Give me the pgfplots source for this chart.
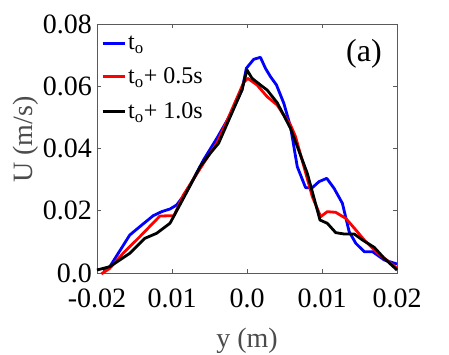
\documentclass[border=0pt]{standalone}
\usepackage{fontspec}
\setmainfont{Liberation Serif}
\usepackage{pgfplots}
\pgfplotsset{compat=1.18}

\definecolor{axgray}{RGB}{90,90,90}
\definecolor{lblgray}{RGB}{75,75,75}

\begin{document}
\begin{tikzpicture}
\begin{axis}[
    at={(0,0)}, anchor=south west,
    scale only axis,
    width=300pt, height=249pt,
    xmin=-0.02, xmax=0.02,
    ymin=0, ymax=0.08,
    clip=false,
    scaled ticks=false,
    /pgf/number format/assume math mode=true,
    xtick={-0.02,-0.01,0,0.01,0.02},
    xticklabels={\textrm{-0.02},\textrm{0.01},\textrm{0.0},\textrm{0.01},\textrm{0.02}},
    ytick={0,0.02,0.04,0.06,0.08},
    yticklabels={\textrm{0.0},\textrm{0.02},\textrm{0.04},\textrm{0.06},\textrm{0.08}},
    tick align=inside,
    major tick length=4pt,
    tick style={axgray, line width=0.6pt},
    axis line style={axgray, line width=0.8pt},
    ticklabel style={font=\fontsize{28}{32}\selectfont, inner sep=0pt},
    xticklabel style={anchor=base, yshift=-35pt},
    yticklabel style={anchor=east, xshift=-5pt},
    xlabel={y (m)},
    ylabel={U (m/s)},
    label style={font=\fontsize{28}{32}\selectfont, text=lblgray, inner sep=0pt},
    xlabel style={at={(axis description cs:0.5,-0.298)}, anchor=base},
    ylabel style={at={(axis description cs:-0.237,0.535)}, anchor=center},
    legend style={draw=none, fill=none, at={(0.01,0.965)}, anchor=north west,
        font=\fontsize{24}{26}\selectfont, row sep=13pt,
        inner sep=1pt},
    legend cell align=left,
    legend image code/.code={\draw[#1, line width=3pt] (0pt,0pt) -- (22pt,0pt);},
    every axis plot/.append style={line width=2.8pt, line join=round},
]
\addplot[color=blue] coordinates {
(-0.01920,0.00096) (-0.01830,0.00200) (-0.01563,0.01221) (-0.01429,0.01489)
(-0.01250,0.01842) (-0.01138,0.01971) (-0.01027,0.02056) (-0.00938,0.02185)
(-0.00804,0.02613) (-0.00580,0.03631) (-0.00402,0.04327) (-0.00223,0.05077)
(-0.00067,0.05880) (-0.00009,0.06576) (0.00089,0.06865) (0.00179,0.06930)
(0.00246,0.06576) (0.00313,0.06308) (0.00393,0.06041) (0.00491,0.05451)
(0.00580,0.04702) (0.00670,0.03417) (0.00781,0.02742) (0.00871,0.02742)
(0.00960,0.02935) (0.01063,0.03042) (0.01161,0.02720) (0.01272,0.02238)
(0.01362,0.01328) (0.01451,0.00953) (0.01563,0.00685) (0.01674,0.00685)
(0.01830,0.00418) (0.02000,0.00289)
};
\addlegendentry{t\textsubscript{o}}
\addplot[color=red] coordinates {
(-0.01942,-0.0003) (-0.01830,0.00150) (-0.01652,0.00632) (-0.01429,0.01167)
(-0.01161,0.01831) (-0.00973,0.01842) (-0.00848,0.02506) (-0.00580,0.03524)
(-0.00402,0.04166) (-0.00223,0.05130) (-0.00045,0.06115) (0.00009,0.06255)
(0.00134,0.06041) (0.00268,0.05666) (0.00402,0.05398) (0.00580,0.04755)
(0.00647,0.04380) (0.00759,0.03417) (0.00871,0.02453) (0.00982,0.01810)
(0.01071,0.01971) (0.01183,0.01949) (0.01317,0.01756) (0.01451,0.01382)
(0.01563,0.01060) (0.01741,0.00632) (0.01875,0.00396) (0.02000,0.00150)
};
\addlegendentry{t\textsubscript{o}+ 0.5s}
\addplot[color=black] coordinates {
(-0.02000,0.00096) (-0.01830,0.00203) (-0.01563,0.00632) (-0.01362,0.01114)
(-0.01205,0.01275) (-0.01027,0.01596) (-0.00848,0.02399) (-0.00625,0.03417)
(-0.00491,0.03845) (-0.00379,0.04166) (-0.00223,0.05023) (-0.00067,0.05880)
(0.00000,0.06523) (0.00067,0.06255) (0.00179,0.06041) (0.00268,0.05880)
(0.00402,0.05473) (0.00580,0.04648) (0.00804,0.03202) (0.00973,0.01703)
(0.01071,0.01596) (0.01183,0.01296) (0.01295,0.01253) (0.01429,0.01253)
(0.01540,0.01060) (0.01696,0.00825) (0.01830,0.00471) (0.02000,0.00096)
};
\addlegendentry{t\textsubscript{o}+ 1.0s}
\node[font=\fontsize{32}{36}\selectfont, anchor=center] at (rel axis cs:0.89,0.88) {(a)};
\end{axis}
\useasboundingbox (-97pt,-82pt) rectangle (352pt,273pt);
\end{tikzpicture}
\end{document}
